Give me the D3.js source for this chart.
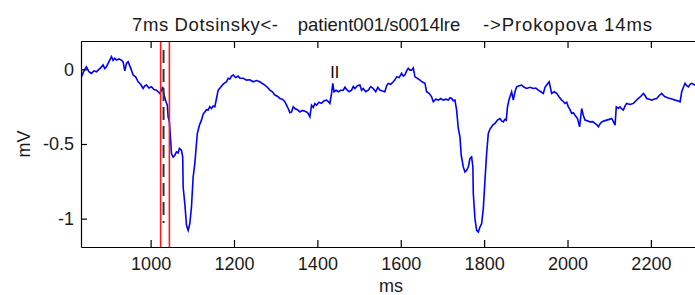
<!DOCTYPE html>
<html>
  <head>
    <meta charset="utf-8">
    <title>patient001/s0014lre</title>
    <style>

body {
  margin: 0;
  background: #fff;
}
svg {
  display: block;
  overflow: hidden;
}
text {
  font-family: "Liberation Sans", Arial, sans-serif;
  fill: #1a1a1a;
}

    </style>
  </head>
  <body>
    <div id="chart"></div>
    <script src="https://cdn.jsdelivr.net/npm/d3@7/dist/d3.min.js"></script>
    <script>

    // ECG lead II trace (ms, mV)
    var traceMs = [
      834, 840, 846, 852, 858, 864, 870, 874, 880, 886, 890, 894, 898, 902, 906, 910, 914, 918, 924, 930,
      934, 938, 942, 946, 952, 958, 964, 970, 976, 982, 986, 990, 996, 1002, 1008, 1014, 1018, 1022, 1026, 1029,
      1032, 1037, 1040, 1042, 1045, 1048, 1050, 1054, 1058, 1062, 1066, 1069, 1074, 1077, 1078, 1082, 1086, 1090, 1094, 1098,
      1102, 1106, 1112, 1117, 1122, 1126, 1130, 1134, 1138, 1142, 1146, 1150, 1154, 1158, 1162, 1168, 1174, 1178, 1182, 1186,
      1190, 1194, 1198, 1204, 1210, 1214, 1222, 1230, 1238, 1246, 1254, 1262, 1268, 1274, 1280, 1286, 1292, 1298, 1304, 1310,
      1316, 1322, 1326, 1330, 1334, 1338, 1342, 1346, 1352, 1358, 1364, 1370, 1374, 1378, 1382, 1386, 1390, 1394, 1398, 1404,
      1410, 1416, 1422, 1426, 1430, 1434, 1437, 1440, 1445, 1450, 1456, 1462, 1466, 1470, 1476, 1482, 1486, 1490, 1496, 1502,
      1506, 1510, 1516, 1522, 1528, 1534, 1540, 1545, 1550, 1556, 1562, 1566, 1570, 1576, 1582, 1586, 1590, 1596, 1602, 1606,
      1610, 1614, 1618, 1622, 1626, 1630, 1634, 1640, 1646, 1652, 1658, 1662, 1668, 1674, 1678, 1684, 1690, 1696, 1702, 1708,
      1714, 1718, 1722, 1726, 1730, 1734, 1738, 1742, 1745, 1750, 1754, 1758, 1762, 1766, 1770, 1773, 1774, 1778, 1782, 1786,
      1790, 1794, 1798, 1802, 1806, 1810, 1814, 1818, 1822, 1826, 1832, 1838, 1842, 1846, 1850, 1853, 1856, 1860, 1866, 1870,
      1874, 1878, 1884, 1890, 1896, 1902, 1910, 1918, 1924, 1930, 1936, 1942, 1946, 1950, 1956, 1962, 1968, 1974, 1980, 1986,
      1990, 1994, 1998, 2002, 2006, 2010, 2014, 2018, 2024, 2029, 2034, 2038, 2042, 2048, 2054, 2060, 2066, 2070, 2074, 2078,
      2082, 2088, 2094, 2100, 2106, 2110, 2114, 2117, 2122, 2126, 2130, 2134, 2138, 2142, 2150, 2158, 2164, 2170, 2176, 2182,
      2186, 2190, 2196, 2202, 2208, 2214, 2220, 2226, 2230, 2234, 2240, 2246, 2252, 2258, 2264, 2270, 2274, 2278, 2282, 2286,
      2290, 2294, 2298, 2302, 2306, 2312
    ];
    var traceMv = [
      -0.050, -0.010, 0.017, -0.015, -0.027, -0.010, -0.016, -0.005, 0.010, 0.029, 0.005, 0.017, 0.040, 0.062, 0.085, 0.060, 0.075, 0.062, 0.070, 0.062,
      0.050, -0.010, 0.040, 0.051, 0.010, -0.038, -0.050, -0.083, -0.100, -0.128, -0.110, -0.105, -0.125, -0.117, -0.135, -0.139, -0.150, -0.161, -0.140, -0.117,
      -0.172, -0.217, -0.240, -0.318, -0.352, -0.474, -0.564, -0.587, -0.575, -0.553, -0.560, -0.530, -0.542, -0.587, -0.788, -0.899, -1.045, -1.079, -1.034, -0.922,
      -0.721, -0.631, -0.430, -0.374, -0.340, -0.300, -0.285, -0.270, -0.273, -0.250, -0.262, -0.245, -0.251, -0.195, -0.139, -0.120, -0.099, -0.090, -0.083, -0.060,
      -0.065, -0.045, -0.038, -0.055, -0.045, -0.060, -0.060, -0.072, -0.070, -0.083, -0.075, -0.083, -0.095, -0.105, -0.120, -0.139, -0.150, -0.172, -0.180, -0.195,
      -0.200, -0.217, -0.240, -0.262, -0.290, -0.285, -0.250, -0.262, -0.270, -0.285, -0.275, -0.280, -0.285, -0.295, -0.318, -0.240, -0.255, -0.230, -0.240, -0.220,
      -0.228, -0.210, -0.206, -0.215, -0.228, -0.161, -0.094, -0.150, -0.140, -0.150, -0.140, -0.139, -0.120, -0.134, -0.150, -0.139, -0.115, -0.128, -0.110, -0.105,
      -0.140, -0.128, -0.150, -0.139, -0.115, -0.128, -0.150, -0.120, -0.139, -0.145, -0.150, -0.110, -0.094, -0.100, -0.083, -0.070, -0.050, -0.055, -0.027, -0.045,
      -0.038, -0.010, 0.007, -0.005, -0.005, 0.010, -0.050, -0.060, -0.072, -0.085, -0.094, -0.150, -0.160, -0.184, -0.217, -0.200, -0.206, -0.195, -0.206, -0.200,
      -0.206, -0.190, -0.195, -0.210, -0.206, -0.273, -0.396, -0.452, -0.575, -0.654, -0.687, -0.676, -0.654, -0.597, -0.587, -0.654, -0.832, -1.000, -1.079, -1.090,
      -1.056, -1.034, -0.933, -0.743, -0.564, -0.430, -0.400, -0.385, -0.370, -0.362, -0.340, -0.329, -0.345, -0.352, -0.335, -0.340, -0.251, -0.200, -0.150, -0.206,
      -0.150, -0.117, -0.110, -0.105, -0.120, -0.128, -0.120, -0.128, -0.125, -0.139, -0.150, -0.161, -0.120, -0.105, -0.083, -0.161, -0.150, -0.161, -0.185, -0.206,
      -0.215, -0.228, -0.220, -0.251, -0.270, -0.295, -0.290, -0.307, -0.330, -0.385, -0.262, -0.310, -0.340, -0.345, -0.352, -0.350, -0.362, -0.370, -0.385, -0.365,
      -0.352, -0.345, -0.340, -0.335, -0.329, -0.350, -0.374, -0.251, -0.260, -0.251, -0.265, -0.273, -0.245, -0.228, -0.235, -0.228, -0.210, -0.195, -0.180, -0.161,
      -0.175, -0.195, -0.200, -0.206, -0.198, -0.195, -0.175, -0.161, -0.175, -0.184, -0.190, -0.195, -0.200, -0.206, -0.210, -0.217, -0.150, -0.120, -0.094, -0.110,
      -0.117, -0.100, -0.094, -0.100, -0.105, -0.090
    ];

    var xTicks = [1000, 1200, 1400, 1600, 1800, 2000, 2200];
    var yTicks = [0, -0.5, -1];

    // fiducial marks (ms): detected point, and the two method offsets
    var markMs = 1031;
    var markTop = 0.13, markBottom = -1.03;
    var methodNames = ['Dotsinsky', 'Prokopova'];
    var methodOffsets = [-7, 14];
    var recordName = 'patient001/s0014lre';
    var leadLabel = 'II', leadLabelMs = 1437;

    var width = 695, height = 295;
    var margin = {top: 41, right: -8, bottom: 48, left: 81};

    var svg = d3.select('#chart').append('svg')
        .attr('width', width)
        .attr('height', height);

    var x = d3.scaleLinear()
        .domain([833, 2325])
        .range([margin.left, width - margin.right]);
    var y = d3.scaleLinear()
        .domain([-1.19, 0.19])
        .range([height - margin.bottom, margin.top]);

    svg.append('clipPath')
        .attr('id', 'plotclip')
      .append('rect')
        .attr('x', margin.left)
        .attr('y', margin.top)
        .attr('width', width - margin.right - margin.left)
        .attr('height', height - margin.bottom - margin.top);

    var points = traceMs.map(function(t, i) { return [t, traceMv[i]]; });

    var line = d3.line()
        .x(function(d) { return x(d[0]); })
        .y(function(d) { return y(d[1]); });

    svg.append('path')
        .datum(points)
        .attr('clip-path', 'url(#plotclip)')
        .attr('d', line)
        .style('fill', 'none')
        .style('stroke', '#0000ff')
        .style('stroke-width', 1.6)
        .style('stroke-linejoin', 'miter');

    // dashed detected point
    svg.append('line')
        .attr('x1', x(markMs))
        .attr('x2', x(markMs))
        .attr('y1', y(markTop))
        .attr('y2', y(markBottom))
        .style('stroke', '#333')
        .style('stroke-width', 2)
        .style('stroke-dasharray', '13,6');

    // red lines for the two methods
    svg.selectAll('.method')
        .data(methodOffsets)
        .enter()
        .append('line')
          .attr('class', 'method')
          .attr('x1', function(d) { return x(markMs + d); })
          .attr('x2', function(d) { return x(markMs + d); })
          .attr('y1', y.range()[1])
          .attr('y2', y.range()[0])
          .style('stroke', '#ff1a1a')
          .style('stroke-width', 1.6);

    svg.append('text')
        .attr('x', x(leadLabelMs) + 2)
        .attr('y', 78)
        .attr('text-anchor', 'middle')
        .style('font-size', '16px')
        .style('fill', '#000')
        .text(leadLabel);

    // axes, ticks pointing inward like matlab
    svg.append('g')
        .attr('transform', 'translate(0,' + (height - margin.bottom) + ')')
        .call(d3.axisBottom(x).tickValues(xTicks).tickSize(-7).tickSizeOuter(0).tickPadding(10)
          .tickFormat(d3.format('d')));
    svg.append('g')
        .attr('transform', 'translate(0,' + margin.top + ')')
        .call(d3.axisTop(x).tickValues(xTicks).tickSize(-7).tickSizeOuter(0).tickFormat(''));
    svg.append('g')
        .attr('transform', 'translate(' + margin.left + ',0)')
        .call(d3.axisLeft(y).tickValues(yTicks).tickSize(-6).tickSizeOuter(0).tickPadding(7)
          .tickFormat(function(d) { return d === 0 ? '0' : String(d); }));

    svg.selectAll('.domain, .tick line')
        .style('stroke', '#000')
        .style('stroke-width', 1.2);
    svg.selectAll('.tick text')
        .style('font-size', '18px')
        .style('font-family', '"Liberation Sans", Arial, sans-serif')
        .style('fill', '#1a1a1a');

    // axis labels
    svg.append('text')
        .attr('x', 391)
        .attr('y', 292)
        .attr('text-anchor', 'middle')
        .style('font-size', '18px')
        .text('ms');
    svg.append('text')
        .attr('transform', 'translate(30,' + ((margin.top + height - margin.bottom) / 2) + ') rotate(-90)')
        .attr('text-anchor', 'middle')
        .style('font-size', '18px')
        .text('mV');

    // title in three pieces, spread like the matlab title string
    var title = svg.append('g').style('font-size', '18.5px');
    title.append('text')
        .attr('x', 132).attr('y', 31)
        .attr('textLength', 146)
        .attr('lengthAdjust', 'spacing')
        .text(Math.abs(methodOffsets[0]) + 'ms ' + methodNames[0] + '<-');
    title.append('text')
        .attr('x', 379).attr('y', 31)
        .attr('text-anchor', 'middle')
        .text(recordName);
    title.append('text')
        .attr('x', 483).attr('y', 31)
        .attr('textLength', 169)
        .attr('lengthAdjust', 'spacing')
        .text('->' + methodNames[1] + ' ' + methodOffsets[1] + 'ms');

    </script>
  </body>
</html>
